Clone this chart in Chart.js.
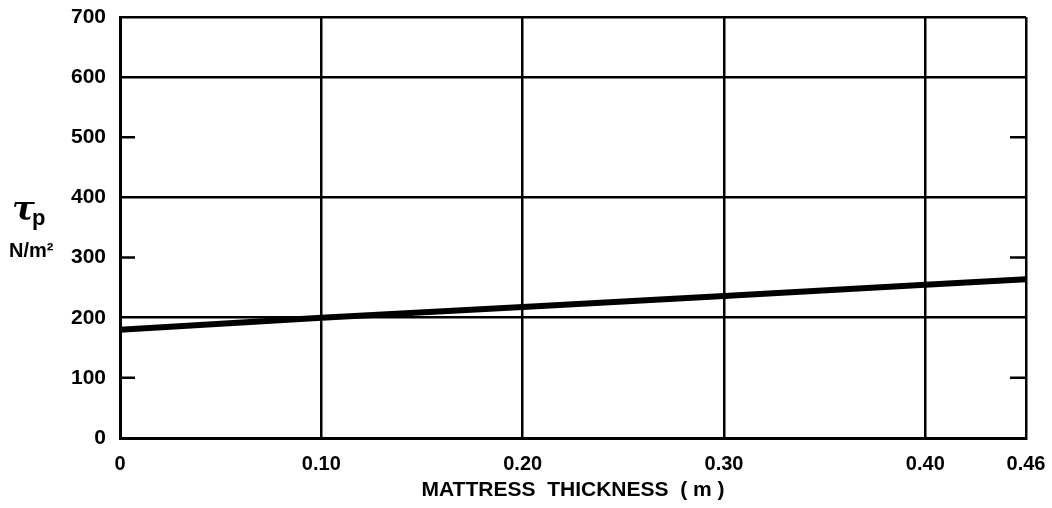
<!DOCTYPE html>
<html>
<head>
<meta charset="utf-8">
<script src="https://cdn.jsdelivr.net/npm/chart.js@4"></script>
<style>
  html, body { margin: 0; padding: 0; background: #fff; }
  #wrap { width: 1052px; height: 508px; }
</style>
</head>
<body>
<div id="wrap"><canvas id="tauChart"></canvas></div>
<script>
// mattress thickness (m) and permissible shear stress tau_p (N/m2)
const thickness = [0, 0.10, 0.20, 0.30, 0.40, 0.45];
const tauP = [180, 200, 218, 236, 255, 264];

// x tick positions and the labels printed under them
const xTickValues = [0, 0.10, 0.20, 0.30, 0.40, 0.45];
const xTickLabels = ['0', '0.10', '0.20', '0.30', '0.40', '0.46'];
const yTickValues = [0, 100, 200, 300, 400, 500, 600, 700];
const yGridValues = [200, 400, 600, 700]; // full lines
const yShortTicks = [100, 300, 500];      // small marks on both sides

const FONT = "'Liberation Sans', Arial, sans-serif";

// short tick marks + the tau_p label on the left
const extras = {
  id: 'extras',
  afterDatasetsDraw(chart) {
    const ctx = chart.ctx;
    const area = chart.chartArea;
    const y = chart.scales.y;
    ctx.save();
    ctx.strokeStyle = '#000';
    ctx.lineWidth = 2.5;
    yShortTicks.forEach(v => {
      const py = y.getPixelForValue(v);
      ctx.beginPath();
      ctx.moveTo(area.left, py); ctx.lineTo(area.left + 15, py);
      ctx.moveTo(area.right - 16, py); ctx.lineTo(area.right, py);
      ctx.stroke();
    });
    ctx.fillStyle = '#000';
    ctx.textBaseline = 'alphabetic';
    ctx.font = "bold italic 34px 'DejaVu Serif', serif";
    ctx.fillText('τ', 12, 220);
    ctx.font = 'bold 22px ' + FONT;
    ctx.fillText('p', 32, 225);
    ctx.font = 'bold 20px ' + FONT;
    ctx.fillText('N/m²', 9, 257);
    ctx.restore();
  }
};

new Chart(document.getElementById('tauChart'), {
  type: 'line',
  data: {
    datasets: [{
      data: thickness.map((t, i) => ({ x: t, y: tauP[i] })),
      borderColor: '#000',
      borderWidth: 6,
      pointRadius: 0,
      tension: 0
    }]
  },
  options: {
    responsive: true,
    maintainAspectRatio: false,
    animation: false,
    layout: { padding: { top: 17, right: 26, left: 0, bottom: 0 } },
    plugins: { legend: { display: false }, tooltip: { enabled: false } },
    scales: {
      x: {
        type: 'linear',
        min: 0,
        max: 0.45,
        afterBuildTicks: s => { s.ticks = xTickValues.map(v => ({ value: v })); },
        afterFit: s => { s.height = 70; s.paddingLeft = 0; s.paddingRight = 0; },
        border: { color: '#000', width: 3 },
        grid: { color: '#000', lineWidth: 2.5, drawTicks: false },
        ticks: {
          color: '#000',
          padding: 14,
          maxRotation: 0,
          font: { family: FONT, size: 20, weight: 'bold' },
          callback: (v, i) => xTickLabels[i]
        },
        title: {
          display: true,
          text: 'MATTRESS  THICKNESS  ( m )',
          color: '#000',
          padding: { top: 0, bottom: 5 },
          font: { family: FONT, size: 21, weight: 'bold' }
        }
      },
      y: {
        min: 0,
        max: 700,
        afterBuildTicks: s => { s.ticks = yTickValues.map(v => ({ value: v })); },
        afterFit: s => { s.width = 120; s.paddingTop = 0; s.paddingBottom = 0; },
        border: { color: '#000', width: 3 },
        grid: {
          drawTicks: false,
          lineWidth: 2.5,
          color: c => yGridValues.includes(c.tick.value) ? '#000' : 'rgba(0,0,0,0)'
        },
        ticks: {
          color: '#000',
          padding: 14,
          font: { family: FONT, size: 21, weight: 'bold' }
        }
      }
    }
  },
  plugins: [extras]
});
</script>
</body>
</html>
